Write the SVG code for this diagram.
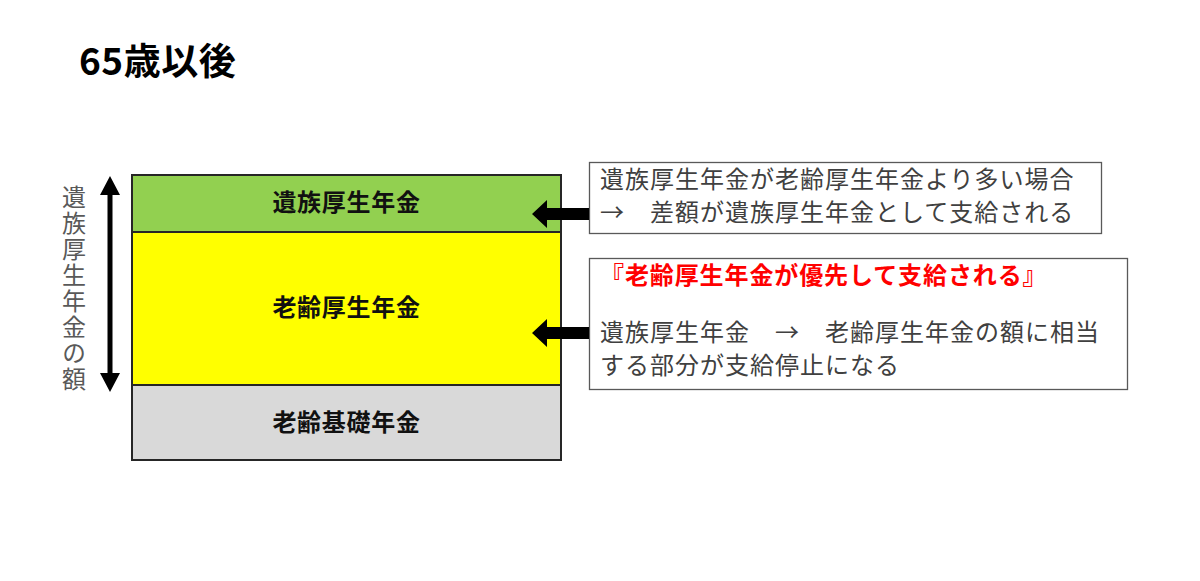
<svg xmlns="http://www.w3.org/2000/svg" width="1200" height="581" viewBox="0 0 1200 581">
<style>
  .jp { font-family: "Noto Sans CJK JP", "Noto Sans", sans-serif; }
  .lbl { font-size: 24px; font-weight: bold; fill: #111; text-anchor: middle; letter-spacing: 0.7px; }
  .note { font-size: 24px; fill: #404040; letter-spacing: 1px; }
  .vt { font-size: 24px; fill: #595959; letter-spacing: 2px; }
  .layer { stroke: #262626; stroke-width: 2; }
  .nbox { fill: #fff; stroke: #595959; stroke-width: 1.3; }
  .arr { fill: #000; }
</style>
<rect width="1200" height="581" fill="#fff"/>
<text id="title" class="jp" x="79" y="75" font-size="37" font-weight="bold" fill="#000" letter-spacing="0.5">65歳以後</text>

<g id="axis-label">
  <text class="jp vt" x="74" y="185" writing-mode="vertical-rl">遺族厚生年金の額</text>
</g>

<g id="layer-survivor">
  <rect class="layer" x="132" y="175" width="429" height="57" fill="#92D050"/>
  <text class="jp lbl" x="346.5" y="211">遺族厚生年金</text>
</g>
<g id="layer-old-age-employee">
  <rect class="layer" x="132" y="232" width="429" height="153" fill="#FFFF00"/>
  <text class="jp lbl" x="346.5" y="316">老齢厚生年金</text>
</g>
<g id="layer-basic">
  <rect class="layer" x="132" y="385" width="429" height="75" fill="#D9D9D9"/>
  <text class="jp lbl" x="346.5" y="431">老齢基礎年金</text>
</g>

<g id="note1">
  <rect class="nbox" x="589.5" y="162.5" width="512" height="71"/>
  <text class="jp note" x="600" y="188">遺族厚生年金が老齢厚生年金より多い場合</text>
  <text class="jp note" x="600" y="221">→　差額が遺族厚生年金として支給される</text>
</g>
<g id="note2">
  <rect class="nbox" x="589.5" y="258.5" width="538" height="131"/>
  <text class="jp" x="600" y="284" font-size="24" font-weight="bold" fill="#FF0000" letter-spacing="0.9">『老齢厚生年金が優先して支給される』</text>
  <text class="jp note" x="600" y="341">遺族厚生年金　→　老齢厚生年金の額に相当</text>
  <text class="jp note" x="600" y="374">する部分が支給停止になる</text>
</g>

<g id="connectors">
  <polygon class="arr" points="110,176 120,195 112.5,195 112.5,373 120,373 110,392 100,373 107.5,373 107.5,195 100,195"/>
  <polygon class="arr" points="532,214 547,200 547,208 589,208 589,220 547,220 547,228"/>
  <polygon class="arr" points="532,333 547,319 547,327 589,327 589,339 547,339 547,347"/>
</g>
</svg>
